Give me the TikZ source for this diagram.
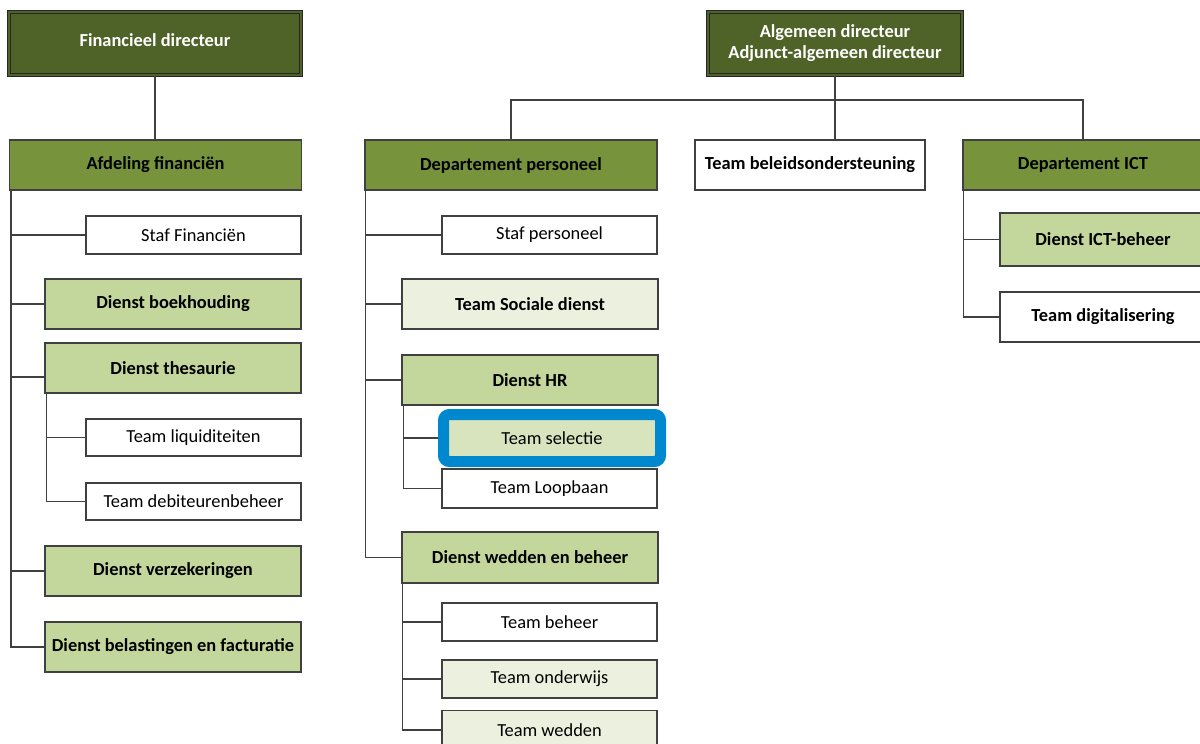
\documentclass[tikz,border=0pt]{standalone}
\usepackage{fontspec}
\setmainfont{Carlito}
\definecolor{dirgreen}{RGB}{79,98,40}
\definecolor{deptgreen}{RGB}{119,147,60}
\definecolor{dienstgreen}{RGB}{195,214,155}
\definecolor{palegreen}{RGB}{235,241,222}
\definecolor{selgreen}{RGB}{215,228,189}
\definecolor{selblue}{RGB}{0,136,206}
\definecolor{boxline}{RGB}{64,64,64}
\newcommand{\orgfont}{\fontsize{9.2}{10.5}\selectfont}

\begin{document}
\begin{tikzpicture}[x=0.5pt, y=-0.5pt,
    orgbox/.style={draw=boxline, line width=0.6pt, inner sep=0pt, font=\orgfont},
    strong/.style={font=\orgfont\bfseries},
    dirbox/.style={draw=black!85, line width=0.5pt, double=dirgreen, double distance=1pt,
        fill=dirgreen, text=white, inner sep=0pt, font=\orgfont\bfseries, align=center,
        minimum width=146pt, minimum height=31.5pt},
    deptfill/.style={fill=deptgreen},
    dienstfill/.style={fill=dienstgreen},
    palefill/.style={fill=palegreen},
    plainfill/.style={fill=white},
    wide/.style={minimum width=146pt, minimum height=25pt},
    dienst/.style={minimum width=128pt, minimum height=25pt},
    team/.style={minimum width=107.5pt, minimum height=19pt},
    link/.style={draw=boxline, line width=0.6pt}]

    \useasboundingbox (0,0) rectangle (1200,744);
    \clip (0,0) rectangle (1200,744);

    % Financieel directeur and Afdeling financien
    \node[dirbox] (findir) at (155,43.5) {\raisebox{3pt}{Financieel directeur}};
    \node[orgbox, deptfill, strong, wide] (afdfin) at (155.5,165) {Afdeling financiën};
    \node[orgbox, plainfill, team] (staffin) at (193.5,235) {Staf Financiën};
    \node[orgbox, dienstfill, strong, dienst] (boekh) at (173,304) {Dienst boekhouding};
    \node[orgbox, dienstfill, strong, dienst] (thes) at (173,368) {Dienst thesaurie};
    \node[orgbox, plainfill, team, minimum height=18.5pt] (liquid) at (193.5,437.5) {Team liquiditeiten};
    \node[orgbox, plainfill, team, minimum height=18.5pt] (debit) at (193.5,501.5) {Team debiteurenbeheer};
    \node[orgbox, dienstfill, strong, dienst] (verzek) at (173,571) {Dienst verzekeringen};
    \node[orgbox, dienstfill, strong, dienst] (belast) at (173,647) {Dienst belastingen en facturatie};

    % Algemeen directeur
    \node[dirbox, minimum width=127pt] (algdir) at (835,43.5) {Algemeen directeur\\Adjunct-algemeen directeur};
    \node[orgbox, plainfill, strong, minimum width=115pt, minimum height=25pt] (beleid) at (810,165) {Team beleidsondersteuning};

    % Departement personeel
    \node[orgbox, deptfill, strong, wide] (deppers) at (511,165) {Departement personeel};
    \node[orgbox, plainfill, team] (stafpers) at (549.5,235) {Staf personeel};
    \node[orgbox, palefill, strong, dienst] (sociaal) at (530,304) {Team Sociale dienst};
    \node[orgbox, dienstfill, strong, dienst] (dienshr) at (530,380) {Dienst HR};
    \node[draw=selblue, line width=5.5pt, rounded corners=3pt, fill=selgreen, inner sep=0pt,
        font=\orgfont, minimum width=108.5pt, minimum height=23.5pt] (selectie) at (552,438) {Team selectie};
    \node[orgbox, plainfill, team, minimum height=19.5pt] (loopbaan) at (549.5,488.5) {Team Loopbaan};
    \node[orgbox, dienstfill, strong, dienst, minimum height=25.5pt] (wedbeh) at (530,557.5) {Dienst wedden en beheer};
    \node[orgbox, plainfill, team] (beheer) at (549.5,622) {Team beheer};
    \node[orgbox, palefill, team] (onderwijs) at (549.5,679) {Team onderwijs};
    \node[orgbox, palefill, team, minimum height=19.5pt] (wedden) at (549.5,730) {Team wedden};

    % Departement ICT
    \node[orgbox, deptfill, strong, minimum width=120pt, minimum height=25pt] (depict) at (1083,165) {Departement ICT};
    \node[orgbox, dienstfill, strong, minimum width=103pt, minimum height=26.5pt] (ictbeh) at (1103,239.5) {Dienst ICT-beheer};
    \node[orgbox, plainfill, strong, minimum width=103pt, minimum height=25pt] (digital) at (1103,317) {Team digitalisering};

    % connectors
    \draw[link] (findir.south) -- (findir.south |- afdfin.north);
    \foreach \n in {staffin,boekh,verzek,belast}
        \draw[link] ([xshift=1pt]afdfin.south west) |- (\n.west);
    \draw[link] ([xshift=1pt]afdfin.south west) |- ([yshift=-4.5pt]thes.west);
    \foreach \n in {liquid,debit}
        \draw[link] ([xshift=1pt]thes.south west) |- (\n.west);

    \coordinate (bus) at (835,100);
    \draw[link] (algdir.south) -- (algdir.south |- beleid.north);
    \draw[link] (deppers.north) |- (bus) -| (depict.north);

    \foreach \n in {stafpers,sociaal,dienshr,wedbeh}
        \draw[link] ([xshift=0.5pt]deppers.south west) |- (\n.west);
    \foreach \n in {selectie,loopbaan}
        \draw[link] ([xshift=1pt]dienshr.south west) |- (\n.west);
    \foreach \n in {beheer,onderwijs,wedden}
        \draw[link] ([xshift=0.5pt]wedbeh.south west) |- (\n.west);
    \foreach \n in {ictbeh,digital}
        \draw[link] ([xshift=0.5pt]depict.south west) |- (\n.west);
\end{tikzpicture}
\end{document}
